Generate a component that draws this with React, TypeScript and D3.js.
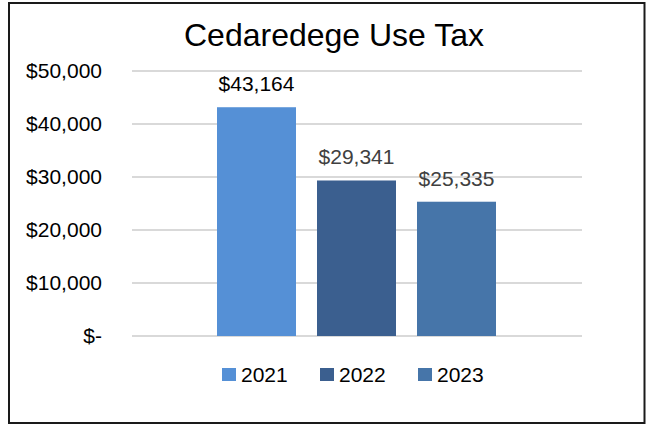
import React from "react";
import * as d3 from "d3";

const title = "Cedaredege Use Tax";
const seriesNames = ["2021", "2022", "2023"];
const values = [43164, 29341, 25335];
const colors = ["#5590d6", "#3b5f8f", "#4675a9"];
const labelColors = ["#000000", "#404040", "#404040"];
const tickValues = [0, 10000, 20000, 30000, 40000, 50000];

const W = 649;
const H = 427;

export default function App() {
  const y = d3.scaleLinear().domain([0, 50000]).range([336, 71]);
  const plotX0 = 132;
  const plotX1 = 582;
  const x = d3
    .scaleBand<string>()
    .domain(seriesNames)
    .range([206.5, 506.5])
    .paddingInner(0.21)
    .paddingOuter(0.105);
  const fmt = d3.format(",");
  const tickLabel = (v: number) => (v === 0 ? "$-" : "$" + fmt(v));
  const font = "'Liberation Sans', Arial, sans-serif";

  const legendX = [222, 320, 418];

  return (
    <svg
      width={W}
      height={H}
      style={{ position: "absolute", left: 0, top: 0, background: "#fff" }}
      fontFamily={font}
    >
      <rect x={0} y={0} width={W} height={H} fill="#fff" />
      <rect x={9} y={3} width={635.5} height={420} fill="#fff" stroke="#1a1a1a" strokeWidth={2} />
      <text x={334} y={46} textAnchor="middle" fontSize={32} fill="#000">
        {title}
      </text>
      {tickValues.map((t) => (
        <g key={t}>
          <line x1={plotX0} x2={plotX1} y1={y(t)} y2={y(t)} stroke="#d9d9d9" strokeWidth={2} />
          <text x={102} y={y(t) + 7} textAnchor="end" fontSize={21} fill="#000">
            {tickLabel(t)}
          </text>
        </g>
      ))}
      {seriesNames.map((s, i) => (
        <g key={s}>
          <rect
            x={x(s)!}
            y={y(values[i])}
            width={x.bandwidth()}
            height={y(0) - y(values[i])}
            fill={colors[i]}
          />
          <text
            x={x(s)! + x.bandwidth() / 2}
            y={y(values[i]) - 16}
            textAnchor="middle"
            fontSize={21}
            fill={labelColors[i]}
          >
            {"$" + fmt(values[i])}
          </text>
        </g>
      ))}
      {seriesNames.map((s, i) => (
        <g key={"lg" + s}>
          <rect x={legendX[i]} y={368} width={14} height={13} fill={colors[i]} />
          <text x={legendX[i] + 19} y={382} fontSize={21} fill="#000">
            {s}
          </text>
        </g>
      ))}
    </svg>
  );
}
